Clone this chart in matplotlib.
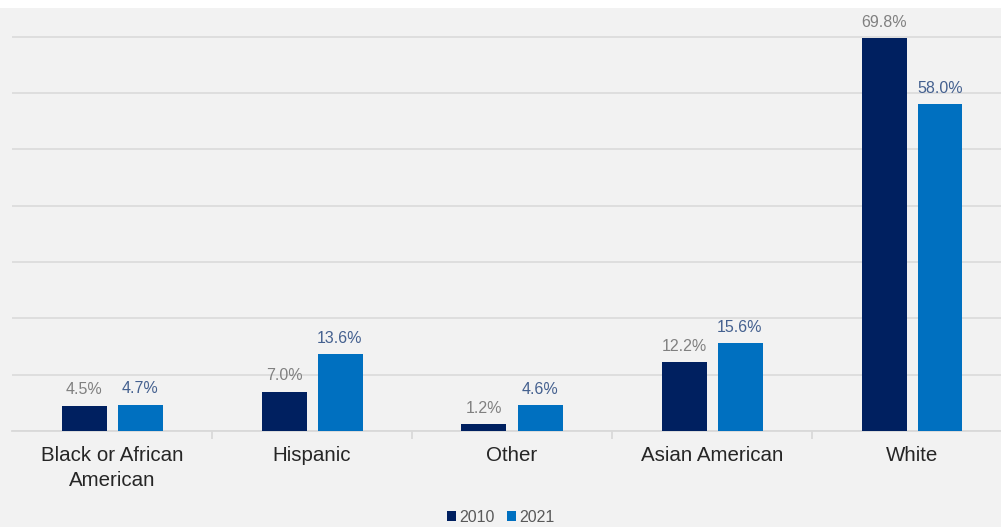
import numpy as np
import matplotlib.pyplot as plt
from matplotlib.patches import Rectangle

categories = ["Black or African\nAmerican", "Hispanic", "Other", "Asian American", "White"]
years = ["2010", "2021"]
share_2010 = [4.5, 7.0, 1.2, 12.2, 69.8]
share_2021 = [4.7, 13.6, 4.6, 15.6, 58.0]

COLOR_2010 = "#002060"
COLOR_2021 = "#0070c0"
BG = "#f2f2f2"

plt.rcParams["font.family"] = ["Liberation Sans", "DejaVu Sans"]

fig = plt.figure(figsize=(10.01, 5.27), dpi=100, facecolor=BG)
# white strip at top of the screenshot
fig.patches.append(Rectangle((0, 1 - 8 / 527), 1, 8 / 527, transform=fig.transFigure,
                             facecolor="white", edgecolor="none", zorder=0))

# axes run a little past the right edge, like the cropped original
ax = fig.add_axes([12 / 1001, (527 - 431) / 527, 1000 / 1001, (431 - 8) / 527])
ax.set_facecolor(BG)

x = np.arange(len(categories))
w = 0.225
off = 0.14
b1 = ax.bar(x - off, share_2010, w, color=COLOR_2010, label=years[0], zorder=3)
b2 = ax.bar(x + off, share_2021, w, color=COLOR_2021, label=years[1], zorder=3)

for rect, v in zip(b1, share_2010):
    ax.annotate(f"{v:.1f}%", (rect.get_x() + rect.get_width() / 2, v),
                xytext=(0, 6), textcoords="offset points", ha="center", va="bottom",
                fontsize=11.5, color="#808080")
for rect, v in zip(b2, share_2021):
    ax.annotate(f"{v:.1f}%", (rect.get_x() + rect.get_width() / 2, v),
                xytext=(0, 6), textcoords="offset points", ha="center", va="bottom",
                fontsize=11.5, color="#44608f")

ax.set_xlim(-0.5, len(categories) - 0.5)
ax.set_ylim(0, 75.1)
ax.set_yticks(np.arange(0, 80, 10))
ax.yaxis.grid(True, color="#dcdcdc", linewidth=1.3, zorder=0)
ax.tick_params(axis="y", left=False, labelleft=False)

for s in ["top", "right", "left"]:
    ax.spines[s].set_visible(False)
ax.spines["bottom"].set_color("#d9d9d9")
ax.spines["bottom"].set_linewidth(1.3)

# category labels centred, tick marks between categories
ax.set_xticks(x)
ax.set_xticklabels(categories, fontsize=14.8, color="#262626", linespacing=1.35)
ax.tick_params(axis="x", which="major", length=0, pad=11)
ax.set_xticks(np.arange(0.5, len(categories), 1), minor=True)
ax.tick_params(axis="x", which="minor", length=6, color="#d9d9d9", width=1.3)

fig.legend(handles=[b1, b2], labels=years, loc="center", bbox_to_anchor=(0.5, 1 - 517 / 527),
           ncol=2, frameon=False, fontsize=11.5, labelcolor="#595959",
           handlelength=0.55, handleheight=0.55, handletextpad=0.2, columnspacing=0.8)

fig.savefig("out.png", dpi=100, facecolor=BG)
